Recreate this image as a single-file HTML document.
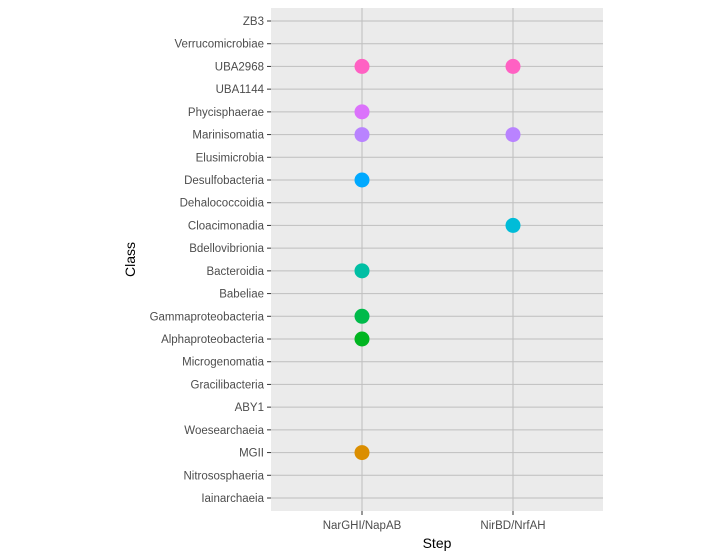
<!DOCTYPE html>
<html><head><meta charset="utf-8">
<style>
body{margin:0;background:#fff;}
svg{display:block;font-family:"Liberation Sans",Arial,sans-serif;}
</style></head>
<body>
<svg id="chart" width="727" height="558"></svg>
<script>
const categories=["ZB3","Verrucomicrobiae","UBA2968","UBA1144","Phycisphaerae","Marinisomatia","Elusimicrobia","Desulfobacteria","Dehalococcoidia","Cloacimonadia","Bdellovibrionia","Bacteroidia","Babeliae","Gammaproteobacteria","Alphaproteobacteria","Microgenomatia","Gracilibacteria","ABY1","Woesearchaeia","MGII","Nitrososphaeria","Iainarchaeia"];
const steps=["NarGHI/NapAB","NirBD/NrfAH"];
const pointClass=["UBA2968","UBA2968","Phycisphaerae","Marinisomatia","Marinisomatia","Desulfobacteria","Cloacimonadia","Bacteroidia","Gammaproteobacteria","Alphaproteobacteria","MGII"];
const pointStep=["NarGHI/NapAB","NirBD/NrfAH","NarGHI/NapAB","NarGHI/NapAB","NirBD/NrfAH","NarGHI/NapAB","NirBD/NrfAH","NarGHI/NapAB","NarGHI/NapAB","NarGHI/NapAB","NarGHI/NapAB"];
const pointColor=["#FF61C3","#FF61C3","#DB72FB","#B983FF","#B983FF","#00A9FF","#00BCD8","#00BFA4","#00BA4A","#00B520","#DB8E00"];

const svg=document.getElementById('chart');
const NS="http://www.w3.org/2000/svg";
const L=271,R=603,T=8,B=511;
const y0=21,y1=498;
function yScale(c){const i=categories.indexOf(c);return y0+i*(y1-y0)/(categories.length-1);}
function xScale(s){const i=steps.indexOf(s);return 362+i*151;}
function mk(tag,attrs,parent){const e=document.createElementNS(NS,tag);for(const k in attrs)e.setAttribute(k,attrs[k]);(parent||svg).appendChild(e);return e;}

const bg=mk('rect',{x:L,y:T,width:R-L,height:B-T,fill:'#EBEBEB'});



categories.forEach(c=>{
  const y=yScale(c);
  const g=mk('line',{x1:L,x2:R,y1:y,y2:y,stroke:'#BEBEBE','stroke-width':1});
  
  
  mk('line',{x1:L-4,x2:L,y1:y,y2:y,stroke:'#333','stroke-width':1});
  const t=mk('text',{x:L-7,y:y+4,'text-anchor':'end','font-size':11.5,fill:'#4D4D4D'});
  t.textContent=c;
  
  
});
steps.forEach(s=>{
  const x=xScale(s);
  const g=mk('line',{x1:x,x2:x,y1:T,y2:B,stroke:'#BEBEBE','stroke-width':1});
  
  
  mk('line',{x1:x,x2:x,y1:B,y2:B+4,stroke:'#333','stroke-width':1});
  const t=mk('text',{x:x,y:B+18,'text-anchor':'middle','font-size':11.5,fill:'#4D4D4D'});
  t.textContent=s;
  
  
});
pointClass.forEach((c,i)=>{
  const p=mk('circle',{cx:xScale(pointStep[i]),cy:yScale(c),r:7.5,fill:pointColor[i]});
  
  
});
const xt=mk('text',{x:(L+R)/2,y:548,'text-anchor':'middle','font-size':14,fill:'#000'});
xt.textContent='Step';


const yt=mk('text',{x:0,y:0,'text-anchor':'middle','font-size':14,fill:'#000',transform:'translate(135,'+((T+B)/2)+') rotate(-90)'});
yt.textContent='Class';


</script>
</body></html>
